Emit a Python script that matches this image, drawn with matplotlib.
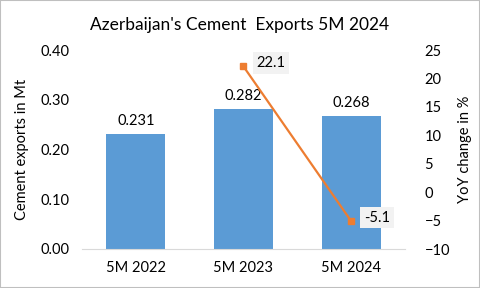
import numpy as np
import matplotlib.pyplot as plt

plt.rcParams['font.family'] = ['Lato', 'DejaVu Sans']

# Данные
categories = ['5M 2022', '5M 2023', '5M 2024']
exports_mt = [0.231, 0.282, 0.268]
yoy_cats = ['5M 2023', '5M 2024']
yoy_pct = [22.1, -5.1]

bar_color = '#5B9BD5'
line_color = '#ED7D31'

fig = plt.figure(figsize=(4.8, 2.88), dpi=100)
ax = fig.add_axes([82 / 480, 1 - 249 / 288, (405 - 82) / 480, (249 - 50) / 288])

x = np.arange(len(categories))
bars = ax.bar(x, exports_mt, width=0.55, color=bar_color, zorder=2)
for xi, v in zip(x, exports_mt):
    ax.text(xi, v + 0.012, f'{v:.3f}', ha='center', va='bottom', fontsize=10.5)

ax.set_xlim(-0.5, 2.5)
ax.set_ylim(0, 0.4)
ax.set_yticks([0, 0.1, 0.2, 0.3, 0.4])
ax.set_yticklabels([f'{t:.2f}' for t in [0, 0.1, 0.2, 0.3, 0.4]])
ax.set_xticks(x)
ax.set_xticklabels(categories)
ax.set_ylabel('Cement exports in Mt', fontsize=10.5, labelpad=8)
ax.tick_params(length=0, labelsize=10.5, pad=9)
for s in ['top', 'right', 'left']:
    ax.spines[s].set_visible(False)
ax.spines['bottom'].set_color('#D9D9D9')

ax2 = ax.twinx()
xi_yoy = [categories.index(c) for c in yoy_cats]
ax2.plot(xi_yoy, yoy_pct, color=line_color, lw=1.6, marker='s', ms=5, zorder=3)
for xi, v in zip(xi_yoy, yoy_pct):
    ax2.text(xi + 0.12, v + 0.6, f'{v}', ha='left', va='center', fontsize=10.5,
             bbox=dict(boxstyle='square,pad=0.25', fc='#F2F2F2', ec='none'))
ax2.set_ylim(-10, 25)
ax2.set_yticks([-10, -5, 0, 5, 10, 15, 20, 25])
ax2.set_ylabel('YoY change in %', fontsize=10.5, labelpad=6)
ax2.tick_params(length=0, labelsize=10.5, pad=14)
for s in ax2.spines.values():
    s.set_visible(False)

fig.text(0.5, 1 - 25 / 288, "Azerbaijan's Cement  Exports 5M 2024", ha='center', va='center', fontsize=12.5)

fig.patches.append(plt.Rectangle((0, 0), 1, 1, transform=fig.transFigure, fill=False,
                                 ec='#BFBFBF', lw=1.5))

fig.savefig('out.png', dpi=100)
